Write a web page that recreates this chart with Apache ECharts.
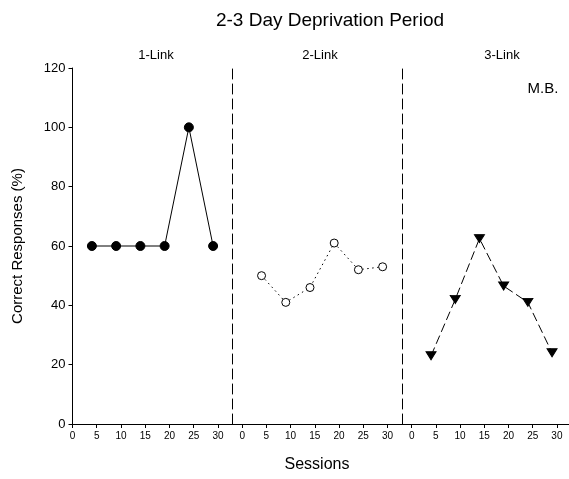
<!DOCTYPE html>
<html>
<head>
<meta charset="utf-8">
<script src="https://cdn.jsdelivr.net/npm/echarts@6/dist/echarts.min.js"></script>
<style>html,body{margin:0;padding:0;background:#fff}#c{width:569px;height:479px}</style>
</head>
<body>
<div id="c"></div>
<script>
// ---- data ----
const sessions = [4, 9, 14, 19, 24, 29];
const oneLink = [60, 60, 60, 60, 100, 60];
const twoLink = [50, 41, 46, 61, 52, 53];
const threeLink = [23, 42, 62.5, 46.5, 41, 24];
const xTickValues = [0, 5, 10, 15, 20, 25, 30];
const panelTitles = ['1-Link', '2-Link', '3-Link'];
const chartTitle = '2-3 Day Deprivation Period';
const yTitle = 'Correct Responses (%)';
const xTitle = 'Sessions';
const subjectLabel = 'M.B.';

const FONT = 'Liberation Sans, Arial, sans-serif';
const chart = echarts.init(document.getElementById('c'), null, {renderer: 'canvas'});

const gridTop = 68, gridH = 356;
const grids = [
  {left: 72.5, top: gridTop, width: 160, height: gridH},
  {left: 232.5, top: gridTop, width: 169.5, height: gridH},
  {left: 402, top: gridTop, width: 167, height: gridH}
];
const xRanges = [[0, 33], [-2, 33], [-2, 32.5]];

const xAxes = grids.map((g, i) => ({
  type: 'value', gridIndex: i, min: xRanges[i][0], max: xRanges[i][1],
  axisLine: {show: true, onZero: false, lineStyle: {color: '#000', width: 1}},
  axisTick: {show: true, inside: false, length: 4, customValues: xTickValues, lineStyle: {color: '#000'}},
  axisLabel: {show: true, customValues: xTickValues, color: '#000', fontSize: 10, fontFamily: FONT, margin: 7},
  splitLine: {show: false}
}));

const yAxes = grids.map((g, i) => i === 0 ? ({
  type: 'value', gridIndex: 0, min: 0, max: 120, interval: 20,
  axisLine: {show: true, onZero: false, lineStyle: {color: '#000', width: 1}},
  axisTick: {show: true, inside: false, length: 4, lineStyle: {color: '#000'}},
  axisLabel: {color: '#000', fontSize: 13, fontFamily: FONT, margin: 7},
  splitLine: {show: false}
}) : ({
  type: 'value', gridIndex: i, min: 0, max: 120, interval: 20,
  axisLine: {show: true, onZero: false, lineStyle: {color: '#000', width: 1, type: [10, 5]}},
  axisTick: {show: false}, axisLabel: {show: false}, splitLine: {show: false}
}));

const pairs = arr => sessions.map((s, k) => [s, arr[k]]);

chart.setOption({
  animation: false,
  backgroundColor: '#fff',
  grid: grids,
  xAxis: xAxes,
  yAxis: yAxes,
  series: [
    {type: 'line', xAxisIndex: 0, yAxisIndex: 0, data: pairs(oneLink),
     symbol: 'circle', symbolSize: 9,
     itemStyle: {color: '#000', borderColor: '#000'},
     lineStyle: {color: '#000', width: 1}},
    {type: 'line', xAxisIndex: 1, yAxisIndex: 1, data: pairs(twoLink),
     symbol: 'circle', symbolSize: 8,
     itemStyle: {color: '#fff', borderColor: '#000', borderWidth: 1},
     lineStyle: {color: '#000', width: 1, type: [1.5, 3.5]}},
    {type: 'line', xAxisIndex: 2, yAxisIndex: 2, data: pairs(threeLink),
     symbol: 'triangle', symbolSize: [10, 8], symbolRotate: 180,
     itemStyle: {color: '#000', borderColor: '#000'},
     lineStyle: {color: '#000', width: 1, type: [9, 4]}}
  ],
  graphic: [
    {type: 'text', x: 330, y: 21, style: {text: chartTitle, font: '19px ' + FONT, fill: '#000', textAlign: 'center', textVerticalAlign: 'middle'}},
    {type: 'text', x: 156, y: 55, style: {text: panelTitles[0], font: '13px ' + FONT, fill: '#000', textAlign: 'center', textVerticalAlign: 'middle'}},
    {type: 'text', x: 320, y: 55, style: {text: panelTitles[1], font: '13px ' + FONT, fill: '#000', textAlign: 'center', textVerticalAlign: 'middle'}},
    {type: 'text', x: 502, y: 55, style: {text: panelTitles[2], font: '13px ' + FONT, fill: '#000', textAlign: 'center', textVerticalAlign: 'middle'}},
    {type: 'text', x: 543, y: 89, style: {text: subjectLabel, font: '15px ' + FONT, fill: '#000', textAlign: 'center', textVerticalAlign: 'middle'}},
    {type: 'text', x: 317, y: 465, style: {text: xTitle, font: '16px ' + FONT, fill: '#000', textAlign: 'center', textVerticalAlign: 'middle'}},
    {type: 'text', x: 18, y: 246, rotation: Math.PI / 2, style: {text: yTitle, font: '15px ' + FONT, fill: '#000', textAlign: 'center', textVerticalAlign: 'middle'}}
  ]
});
</script>
</body>
</html>
